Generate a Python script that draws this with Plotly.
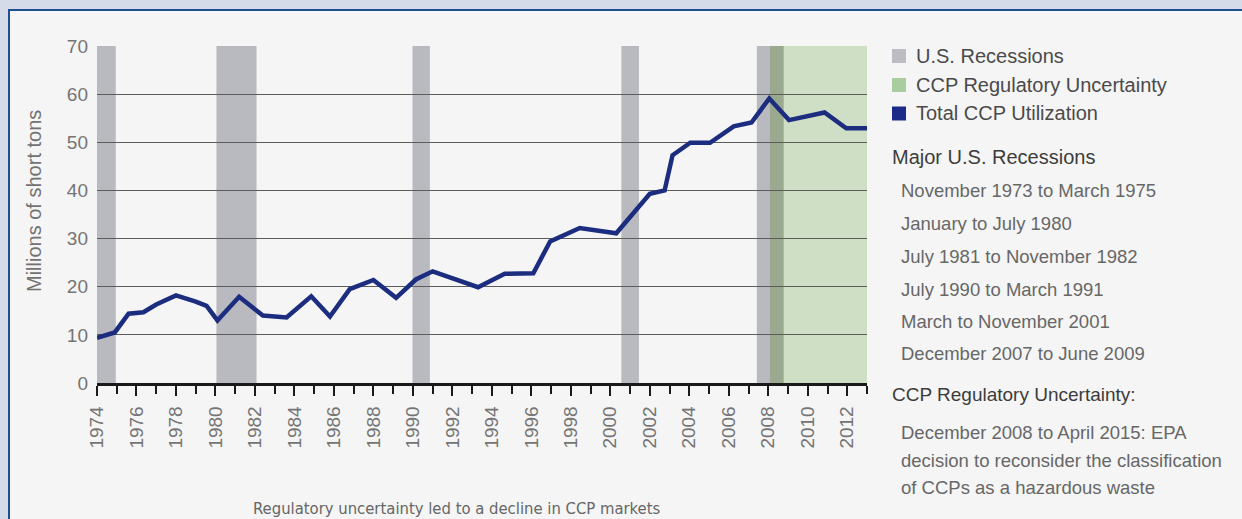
import plotly.graph_objects as go

# ---------------- data ----------------
years = [1974, 1974.9, 1975.6, 1976.35, 1977, 1978, 1979, 1979.55, 1980.1, 1981.2,
         1982.4, 1983.6, 1984.85, 1985.8, 1986.8, 1988, 1989.15, 1990.15, 1991,
         1993.3, 1994.65, 1996.1, 1996.95, 1998.45, 2000.3, 2002, 2002.75, 2003.15,
         2004.05, 2005.05, 2006.25, 2007.15, 2008.05, 2009.05, 2010.85, 2011.95, 2013]
ccp_utilization = [9.4, 10.5, 14.4, 14.7, 16.3, 18.2, 16.9, 16.0, 13.0, 17.9,
                   14.0, 13.6, 18.0, 13.8, 19.5, 21.4, 17.7, 21.5, 23.2,
                   19.9, 22.7, 22.8, 29.4, 32.2, 31.1, 39.3, 40.0, 47.3,
                   49.9, 49.9, 53.3, 54.1, 59.1, 54.6, 56.2, 52.9, 52.9]

recession_start = [1974.0, 1980.05, 1989.98, 2000.56, 2007.42]
recession_end = [1974.95, 1982.08, 1990.86, 2001.45, 2008.78]
uncertainty_start = 2008.07
uncertainty_end = 2013.0

tick_years = list(range(1974, 2013, 2))
y_ticks = [0, 10, 20, 30, 40, 50, 60, 70]

legend_labels = ["U.S. Recessions", "CCP Regulatory Uncertainty", "Total CCP Utilization"]
recession_header = "Major U.S. Recessions"
recession_labels = ["November 1973 to March 1975", "January to July 1980",
                    "July 1981 to November 1982", "July 1990 to March 1991",
                    "March to November 2001", "December 2007 to June 2009"]
uncertainty_header = "CCP Regulatory Uncertainty:"
uncertainty_lines = ["December 2008 to April 2015: EPA",
                     "decision to reconsider the classification",
                     "of CCPs as a hazardous waste"]
y_title = "Millions of short tons"
caption = "Regulatory uncertainty led to a decline in CCP markets"

# ---------------- styling ----------------
W, H = 1242, 519
ML, MR, MT, MB = 97, 375, 46, 136
PW, PH = W - ML - MR, H - MT - MB

def px2x(px):
    return (px - ML) / PW

def py2y(py):
    return (H - MB - py) / PH

FONT = "Liberation Sans, Arial, Helvetica, sans-serif"
NAVY = "#1c2d80"
GRAY_BAND = "#b9b9c0"
GREEN_BAND = "#cfdfc6"
OVERLAP = "#9ba98f"

fig = go.Figure()
fig.add_trace(go.Scatter(x=years, y=ccp_utilization, mode="lines",
                         line=dict(color=NAVY, width=4.5), showlegend=False,
                         hoverinfo="skip"))

shapes = []
# panel
shapes.append(dict(type="rect", xref="paper", yref="paper",
                   x0=px2x(9), x1=px2x(1400), y0=py2y(700), y1=py2y(10),
                   fillcolor="#f5f5f5", line=dict(color="#1e4f8e", width=2),
                   layer="below"))
# recession bands
for s, e in zip(recession_start, recession_end):
    shapes.append(dict(type="rect", xref="x", yref="y", x0=s, x1=e, y0=0, y1=70,
                       fillcolor=GRAY_BAND, line=dict(width=0), layer="below"))
shapes.append(dict(type="rect", xref="x", yref="y", x0=uncertainty_start,
                   x1=uncertainty_end, y0=0, y1=70, fillcolor=GREEN_BAND,
                   line=dict(width=0), layer="below"))
for s, e in zip(recession_start, recession_end):
    o0, o1 = max(s, uncertainty_start), min(e, uncertainty_end)
    if o1 > o0:
        shapes.append(dict(type="rect", xref="x", yref="y", x0=o0, x1=o1, y0=0, y1=70,
                           fillcolor=OVERLAP, line=dict(width=0), layer="below"))

# legend squares
legend_colors = ["#bcbcc2", "#a9cd9e", "#1a2a86"]
legend_rows = [56, 85, 113.5]
for c, r in zip(legend_colors, legend_rows):
    shapes.append(dict(type="rect", xref="paper", yref="paper",
                       x0=px2x(892), x1=px2x(906), y0=py2y(r + 7), y1=py2y(r - 7),
                       fillcolor=c, line=dict(width=0)))

annotations = []
for t, r in zip(legend_labels, legend_rows):
    annotations.append(dict(text=t, xref="paper", yref="paper", x=px2x(914), y=py2y(r),
                            xanchor="left", yanchor="middle", showarrow=False,
                            font=dict(family=FONT, size=20, color="#4a4a4a")))
annotations.append(dict(text=recession_header, xref="paper", yref="paper",
                        x=px2x(890), y=py2y(157), xanchor="left", yanchor="middle",
                        showarrow=False, font=dict(family=FONT, size=20, color="#3c3c3c")))
rec_rows = [190, 223, 256.5, 289.5, 321.5, 353.5]
for t, r in zip(recession_labels, rec_rows):
    annotations.append(dict(text=t, xref="paper", yref="paper", x=px2x(899), y=py2y(r),
                            xanchor="left", yanchor="middle", showarrow=False,
                            font=dict(family=FONT, size=18.5, color="#676767")))
annotations.append(dict(text=uncertainty_header, xref="paper", yref="paper",
                        x=px2x(890), y=py2y(395), xanchor="left", yanchor="middle",
                        showarrow=False, font=dict(family=FONT, size=19, color="#3c3c3c")))
unc_rows = [432.5, 460, 487]
for t, r in zip(uncertainty_lines, unc_rows):
    annotations.append(dict(text=t, xref="paper", yref="paper", x=px2x(899), y=py2y(r),
                            xanchor="left", yanchor="middle", showarrow=False,
                            font=dict(family=FONT, size=18.5, color="#676767")))
annotations.append(dict(text=y_title, xref="paper", yref="paper", x=px2x(34), y=py2y(201),
                        xanchor="center", yanchor="middle", textangle=-90, showarrow=False,
                        font=dict(family=FONT, size=20, color="#727272")))
annotations.append(dict(text=caption, xref="paper", yref="paper", x=px2x(457), y=py2y(508),
                        xanchor="center", yanchor="middle", showarrow=False,
                        font=dict(family="DejaVu Sans Condensed, Liberation Sans Narrow, sans-serif",
                                  size=16.5, color="#666666")))

fig.update_layout(
    width=W, height=H,
    margin=dict(l=ML, r=MR, t=MT, b=MB, pad=0),
    paper_bgcolor="#d6dbe9",
    plot_bgcolor="#f5f5f5",
    shapes=shapes,
    annotations=annotations,
    showlegend=False,
    font=dict(family=FONT),
)
fig.update_xaxes(range=[1974, 2013], tickmode="array", tickvals=tick_years,
                 ticktext=[str(y) for y in tick_years], tickangle=-90,
                 ticks="outside", ticklen=10, tickwidth=2, tickcolor="#1a1a1a",
                 minor=dict(dtick=1, tick0=1974, ticks="outside", ticklen=8,
                            tickwidth=2, tickcolor="#1a1a1a"),
                 showline=True, linecolor="#1a1a1a", linewidth=2.5,
                 showgrid=False, zeroline=False, ticklabelstandoff=3,
                 tickfont=dict(family=FONT, size=19, color="#747474"))
fig.update_yaxes(range=[0, 70], tickvals=y_ticks, showgrid=True, gridcolor="#5c5c5c",
                 gridwidth=1.4, zeroline=False, showline=False, ticks="",
                 ticklabelstandoff=8,
                 tickfont=dict(family=FONT, size=19, color="#747474"))

fig.write_html("out.html")
